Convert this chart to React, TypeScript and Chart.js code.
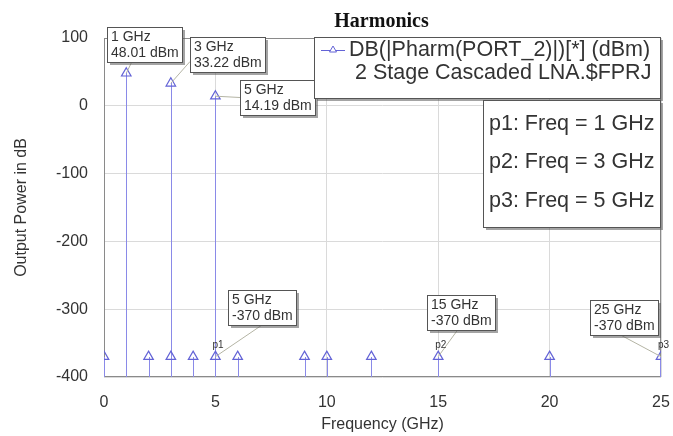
import React, { useEffect, useRef } from "react";
import { Chart, registerables } from "chart.js";
Chart.register(...registerables);

// ---- data ----
const freqGHz = [0, 1, 2, 3, 3, 4, 5, 5, 6, 9, 10, 12, 15, 20, 25];
const powerDbm = [-370, 48.01, -370, 33.22, -370, -370, 14.19, -370, -370, -370, -370, -370, -370, -370, -370];

const xTicks = [0, 5, 10, 15, 20, 25];
const yTicks = [-400, -300, -200, -100, 0, 100];

const markerFreqs = [1, 3, 5, 5, 15, 25];
const markerValues = [48.01, 33.22, 14.19, -370, -370, -370];
const markerNames = ["", "", "", "p1", "p2", "p3"];

const markerSweepNames = ["p1", "p2", "p3"];
const markerSweepFreqs = [1, 3, 5];

const traceLegendLines = ["DB(|Pharm(PORT_2)|)[*] (dBm)", "2 Stage Cascaded LNA.$FPRJ"];
const chartTitle = "Harmonics";
const xTitle = "Frequency (GHz)";
const yTitle = "Output Power in dB";

// ---- styles ----
const SANS = "'Liberation Sans', Arial, sans-serif";
const SERIF = "'Liberation Serif', 'Times New Roman', serif";
const STEM = "#8a8ae8";
const TRI = "#6363d6";
const FRAME = "#8a8a8a";
const GRID = "#dadada";
const TEXT = "#333333";
// box offsets (px, relative to marked point) and leader anchors (fraction of box)
const boxOffsets = [[-19, -46], [19, -46], [25, -16], [13, -67], [-11, -62], [-71, -57]];
const leaderAnchors = [[0.33, 1], [0, 0.7], [0, 0.5], [0.5, 1], [0.45, 1], [0.45, 1]];

const fmt = (v: number) => (Number.isInteger(v) ? String(v) : v.toFixed(2));

function shadowBox(ctx: CanvasRenderingContext2D, x: number, y: number, w: number, h: number) {
  ctx.fillStyle = "rgba(90,90,90,0.55)";
  ctx.fillRect(x + 3, y + 3, w, h);
  ctx.fillStyle = "#ffffff";
  ctx.fillRect(x, y, w, h);
  ctx.strokeStyle = "#555555";
  ctx.lineWidth = 1;
  ctx.strokeRect(x + 0.5, y + 0.5, w, h);
}

const overlay = {
  id: "overlay",
  beforeDatasetsDraw(chart: any) {
    const { ctx, chartArea: a, scales } = chart;
    const x = scales.x, y = scales.y;
    ctx.save();
    // frame
    ctx.strokeStyle = FRAME;
    ctx.lineWidth = 1;
    const l = Math.round(a.left) + 0.5, t = Math.round(a.top) + 0.5;
    const r = Math.round(a.right) - 0.5, b = Math.round(a.bottom) - 0.5;
    ctx.strokeRect(l, t, r - l, b - t);
    // stems (one stroke per frequency, up to the highest point there)
    const yb = Math.round(y.getPixelForValue(y.min));
    const tops = new Map<number, number>();
    freqGHz.forEach((f, i) => {
      const prev = tops.get(f);
      if (prev === undefined || powerDbm[i] > prev) tops.set(f, powerDbm[i]);
    });
    ctx.strokeStyle = STEM;
    ctx.lineWidth = 1;
    tops.forEach((v, f) => {
      let px = Math.round(x.getPixelForValue(f)) + 0.5;
      if (px > a.right) px = Math.round(a.right) - 0.5;
      ctx.beginPath();
      ctx.moveTo(px, yb);
      ctx.lineTo(px, Math.round(y.getPixelForValue(v)));
      ctx.stroke();
    });
    ctx.restore();
  },
  afterDraw(chart: any) {
    const { ctx, chartArea: a, scales } = chart;
    const x = scales.x, y = scales.y;
    ctx.save();
    // title
    ctx.fillStyle = "#111";
    ctx.font = `bold 20px ${SERIF}`;
    ctx.textAlign = "center";
    ctx.textBaseline = "alphabetic";
    ctx.fillText(chartTitle, (a.left + a.right) / 2 - 1, 27);

    // marker annotations
    ctx.font = `14px ${SANS}`;
    markerFreqs.forEach((f, i) => {
      const px = x.getPixelForValue(f);
      const py = y.getPixelForValue(markerValues[i]);
      const lines = [`${f} GHz`, `${fmt(markerValues[i])} dBm`];
      const w = Math.ceil(Math.max(...lines.map((s) => ctx.measureText(s).width))) + 7;
      const h = 35;
      const bx = Math.round(px + boxOffsets[i][0]);
      const by = Math.round(py + boxOffsets[i][1]);
      // leader
      ctx.strokeStyle = "#b4b4a4";
      ctx.lineWidth = 1;
      ctx.beginPath();
      ctx.moveTo(bx + w * leaderAnchors[i][0], by + h * leaderAnchors[i][1]);
      ctx.lineTo(px, py);
      ctx.stroke();
      shadowBox(ctx, bx, by, w, h);
      ctx.fillStyle = TEXT;
      ctx.textAlign = "left";
      ctx.textBaseline = "middle";
      ctx.fillText(lines[0], bx + 4, by + 10);
      ctx.fillText(lines[1], bx + 4, by + 26);
      if (markerNames[i]) {
        ctx.font = `10px ${SANS}`;
        ctx.textAlign = "left";
        ctx.fillText(markerNames[i], px - 3, py - 11);
        ctx.font = `14px ${SANS}`;
      }
    });

    // marker legend box
    ctx.textAlign = "left";
    ctx.textBaseline = "middle";
    shadowBox(ctx, 483, 100, 177, 127);
    ctx.fillStyle = TEXT;
    ctx.font = `21.5px ${SANS}`;
    markerSweepNames.forEach((n, i) => {
      ctx.fillText(`${n}: Freq = ${markerSweepFreqs[i]} GHz`, 489, 124 + i * 38.5);
    });

    // trace legend box
    shadowBox(ctx, 314, 37, 346, 61);
    ctx.strokeStyle = TRI;
    ctx.lineWidth = 1;
    ctx.beginPath();
    ctx.moveTo(321, 50.5);
    ctx.lineTo(345, 50.5);
    ctx.stroke();
    ctx.beginPath();
    ctx.moveTo(333, 46);
    ctx.lineTo(336.5, 52);
    ctx.lineTo(329.5, 52);
    ctx.closePath();
    ctx.fillStyle = "#fff";
    ctx.fill();
    ctx.stroke();
    ctx.fillStyle = TEXT;
    ctx.font = `21.5px ${SANS}`;
    ctx.fillText(traceLegendLines[0], 349, 50);
    ctx.fillText(traceLegendLines[1], 355, 73);
    ctx.restore();
  },
};

export default function App() {
  const ref = useRef<HTMLCanvasElement | null>(null);
  useEffect(() => {
    if (!ref.current) return;
    const chart = new Chart(ref.current, {
      type: "scatter",
      data: {
        datasets: [
          {
            data: freqGHz.map((f, i) => ({ x: f, y: powerDbm[i] })),
            pointStyle: "triangle",
            pointRadius: 5.5,
            pointBorderWidth: 1.2,
            pointBorderColor: TRI,
            pointBackgroundColor: "rgba(255,255,255,0)",
            showLine: false,
            clip: 0,
          } as any,
        ],
      },
      options: {
        animation: false,
        responsive: false,
        devicePixelRatio: 1,
        layout: { padding: { top: 38, right: 12, left: 0, bottom: 0 } },
        plugins: { legend: { display: false }, tooltip: { enabled: false }, title: { display: false } },
        scales: {
          x: {
            type: "linear",
            min: 0,
            max: 25,
            afterBuildTicks: (s: any) => {
              s.ticks = xTicks.map((v) => ({ value: v }));
            },
            afterFit: (s: any) => {
              s.height = 59;
              s.paddingLeft = 0;
              s.paddingRight = 0;
            },
            grid: { color: GRID, drawTicks: false },
            border: { display: false },
            ticks: { font: { family: SANS, size: 16 }, color: TEXT, padding: 16, maxRotation: 0, autoSkip: false },
            title: { display: true, text: xTitle, color: TEXT, font: { family: SANS, size: 16 }, padding: { top: 0, bottom: 2 } },
          },
          y: {
            type: "linear",
            min: -400,
            max: 100,
            afterBuildTicks: (s: any) => {
              s.ticks = yTicks.map((v) => ({ value: v }));
            },
            afterFit: (s: any) => {
              s.width = 104;
              s.paddingTop = 0;
              s.paddingBottom = 0;
            },
            grid: { color: GRID, drawTicks: false },
            border: { display: false },
            ticks: { font: { family: SANS, size: 16 }, color: TEXT, padding: 16, autoSkip: false },
            title: { display: true, text: yTitle, color: TEXT, font: { family: SANS, size: 16 }, padding: { top: 12, bottom: 0 } },
          },
        },
      },
      plugins: [overlay],
    } as any);
    return () => chart.destroy();
  }, []);
  return (
    <canvas
      ref={ref}
      width={673}
      height={436}
      style={{ position: "fixed", left: 0, top: 0, display: "block", background: "#fff" }}
    />
  );
}
